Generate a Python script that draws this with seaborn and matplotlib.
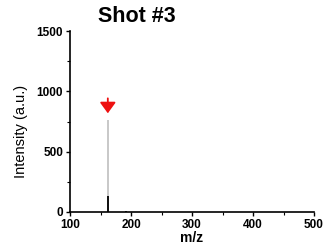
import matplotlib
matplotlib.use("Agg")
import matplotlib.pyplot as plt
from matplotlib import font_manager as fm
import seaborn as sns
import numpy as np

# data
mz_gray = [162]
int_gray = [762]
mz_black = [162, 191]
int_black = [133, 8]
arrow_mz = 162
arrow_top = 965
arrow_tip = 795
title = "Shot #3"
xticks = [100, 200, 300, 400, 500]
yticks = [0, 500, 1000, 1500]

sns.set_theme(style="ticks")
plt.rcParams['font.family'] = ['Liberation Sans', 'DejaVu Sans']
plt.rcParams['text.color'] = 'black'
plt.rcParams['axes.labelcolor'] = 'black'

def find_font(name):
    for f in fm.findSystemFonts():
        if f.split('/')[-1] == name:
            return f
    return None

bold_path = find_font("LiberationSans-Bold.ttf")
reg_path = find_font("LiberationSans-Regular.ttf")

def fp(path, size, weight):
    if path:
        return fm.FontProperties(fname=path, size=size)
    return fm.FontProperties(family="DejaVu Sans", size=size, weight=weight)

fig = plt.figure(figsize=(3.29, 2.48), dpi=100)
ax = fig.add_axes([70/329, 1-212/248, (314-70)/329, (212-31)/248])

ax.vlines(mz_gray, 0, int_gray, color="#c4c4c4", lw=1.3)
ax.vlines(mz_black, 0, int_black, color="black", lw=1.3)
ax.annotate("", xy=(arrow_mz, arrow_tip), xytext=(arrow_mz, arrow_top),
            arrowprops=dict(arrowstyle="-|>,head_width=0.4,head_length=0.55",
                            color="#ee1111", lw=1.3))

ax.set_xlim(100, 500)
ax.set_ylim(0, 1500)
ax.set_xticks(xticks)
ax.set_yticks(yticks)
ax.set_xticks([150, 250, 350, 450], minor=True)
ax.set_yticks([250, 750, 1250], minor=True)
sns.despine(ax=ax)
for s in ["left", "bottom"]:
    ax.spines[s].set_linewidth(1.2)
    ax.spines[s].set_color("black")
ax.tick_params(which="major", direction="out", length=3, width=1, colors="black")
ax.tick_params(axis="x", which="major", pad=2)
ax.tick_params(axis="y", which="major", pad=2)
ax.tick_params(which="minor", direction="out", length=2, width=0.8, colors="black")
tick_fp = fp(bold_path, 8.5, "bold")
ax.set_xticklabels([str(t) for t in xticks], fontproperties=tick_fp)
ax.set_yticklabels([str(t) for t in yticks], fontproperties=tick_fp)
ax.set_xlabel("m/z", fontproperties=fp(bold_path, 10, "bold"), labelpad=0)
ax.set_ylabel("Intensity (a.u.)", fontproperties=fp(reg_path, 10.5, "normal"))
ax.yaxis.set_label_coords(-0.172, 0.447)
ax.set_facecolor("white")
fig.text(137/329, 1-16/248, title, ha="center", va="center",
         fontproperties=fp(bold_path, 15.5, "bold"), color="black")

fig.savefig("out.png", dpi=100, facecolor="white")
